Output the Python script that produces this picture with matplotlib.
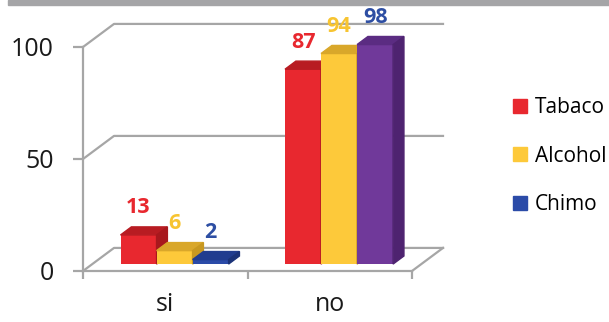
import matplotlib.pyplot as plt
from matplotlib.patches import Polygon, Patch, Rectangle

plt.rcParams['font.family'] = ['Open Sans', 'DejaVu Sans']

categories = ['si', 'no']
series = ['Tabaco', 'Alcohol', 'Chimo']
tabaco = [13, 87]
alcohol = [6, 94]
chimo = [2, 98]
yticks = [0, 50, 100]

# colour sets: front, top, side
red = ('#e8282f', '#b81c22', '#a8181d')
yellow = ('#fdc93a', '#d9a72a', '#c89820')
blue = ('#2b4ba8', '#203c8f', '#1a3278')
purple = ('#70399a', '#5b2c82', '#4e2370')
bar_colors = [[red, red], [yellow, yellow], [blue, purple]]
label_colors = ['#e8282f', '#f7c431', '#2d4ea3']

GRID = '#a6a6a6'
DX, DY = 0.1885, 10.3   # floor depth, category / value units
W = 0.219               # bar width
FRONT, DEPTH = 0.3, 0.35

fig = plt.figure(figsize=(6.09, 3.22), dpi=100)
fig.patches.append(Rectangle((8 / 609, 1 - 5 / 322), 1, 5 / 322,
                             transform=fig.transFigure, color='#a5a5a7', zorder=0))
ax = fig.add_axes([83 / 609, 51 / 322, 329 / 609, 224 / 322])
ax.set_xlim(-0.5, 1.5)
ax.set_ylim(0, 100)

# back wall gridlines with left slants, floor
for v in yticks:
    ax.plot([-0.5, -0.5 + DX, 1.5 + DX], [v, v + DY, v + DY],
            color=GRID, lw=1.6, clip_on=False, zorder=1)
ax.plot([1.5, 1.5 + DX], [0, DY], color=GRID, lw=1.6, clip_on=False, zorder=1)

z = 3
for i in range(len(categories)):
    for j, vals in enumerate([tabaco, alcohol, chimo]):
        v = vals[i]
        front, top, side = bar_colors[j][i]
        xl = i + (j - 1.5) * W + FRONT * DX
        b0 = FRONT * DY
        xr = xl + W
        dx, dy = DEPTH * DX, DEPTH * DY
        ax.bar(xl, v, width=W, bottom=b0, align='edge', color=front,
               zorder=z, clip_on=False)
        ax.add_patch(Polygon([(xl, b0 + v), (xr, b0 + v), (xr + dx, b0 + v + dy),
                              (xl + dx, b0 + v + dy)], closed=True, color=top,
                             zorder=z, clip_on=False))
        ax.add_patch(Polygon([(xr, b0), (xr + dx, b0 + dy), (xr + dx, b0 + v + dy),
                              (xr, b0 + v)], closed=True, color=side,
                             zorder=z, clip_on=False))
        ax.annotate(str(v), (xl + W / 2, b0 + v), xytext=(0, 19.5),
                    textcoords='offset points', ha='center', va='center',
                    fontsize=15.5, fontweight='bold', color=label_colors[j],
                    zorder=10, annotation_clip=False)
        z += 1

for s in ['top', 'right']:
    ax.spines[s].set_visible(False)
for s in ['left', 'bottom']:
    ax.spines[s].set_color(GRID)
    ax.spines[s].set_linewidth(1.6)

ax.set_yticks(yticks)
ax.tick_params(axis='y', length=7, width=1.6, color=GRID, pad=14,
               labelsize=18, labelcolor='#1a1a1a')
ax.set_xticks([-0.5, 0.5, 1.5])
ax.set_xticklabels([])
ax.tick_params(axis='x', which='major', length=6, width=1.6, color=GRID)
ax.set_xticks([0, 1], minor=True)
ax.set_xticklabels(categories, minor=True)
ax.tick_params(axis='x', which='minor', length=0, pad=15,
               labelsize=18, labelcolor='#1a1a1a')
ax.patch.set_visible(False)

handles = [Patch(color=c[0]) for c in (red, yellow, blue)]
fig.legend(handles, series, loc='center left', bbox_to_anchor=(513 / 609, 166 / 322),
           frameon=False, fontsize=15, handlelength=0.65, handleheight=0.65,
           handletextpad=0.4, labelspacing=1.32, borderpad=0, borderaxespad=0)

fig.savefig('out.png', dpi=100)
